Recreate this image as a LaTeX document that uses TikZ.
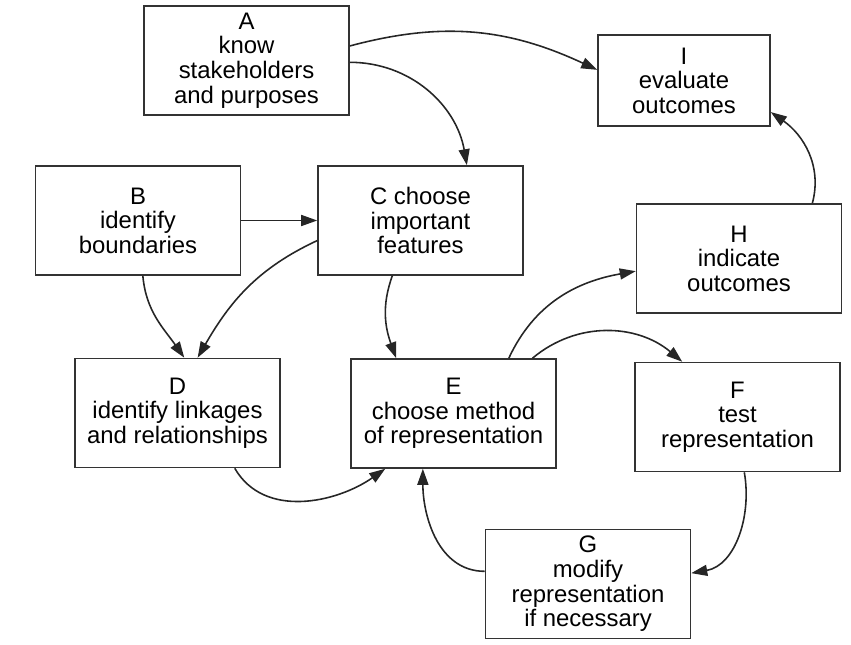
\documentclass[tikz,border=0pt]{standalone}
\usepackage{fontspec}
\setmainfont{Liberation Sans}
\usetikzlibrary{arrows.meta}

\begin{document}
\begin{tikzpicture}[x=0.02cm, y=-0.02cm, line width=0.9pt,
    box/.style={draw=black!80, fill=white, align=center, inner sep=2pt,
      minimum width=4.1cm, minimum height=2.18cm,
      font=\fontsize{13.6}{14}\selectfont},
    flow/.style={draw=black!85, -{Triangle[length=0.32cm,width=0.22cm]}}]
  \useasboundingbox (0,0) rectangle (851,645);

  % steps
  \node[box] (A) at (246.5,60.5) {A\\know\\stakeholders\\and purposes};
  \node[box, minimum width=3.44cm, minimum height=1.82cm] (I) at (684,80.5) {I\\evaluate\\outcomes};
  \node[box] (B) at (138,220.5) {B\\identify\\boundaries};
  \node[box] (C) at (420.5,220.5) {C choose\\important\\features};
  \node[box] (H) at (739,258.5) {H\\indicate\\outcomes};
  \node[box] (D) at (177.5,413) {D\\identify linkages\\and relationships};
  \node[box] (E) at (453.5,413.5) {E\\choose method\\of representation};
  \node[box] (F) at (737.5,417) {F\\test\\representation};
  \node[box] (G) at (588,584) {G\\modify\\representation\\if necessary};

  % connectors
  \draw[flow] (A.8.6) to[out=15, in=155] (I.173);
  \draw[flow] (A.-1) to[out=0, in=100] (C.50);
  \draw[flow] (B) -- (C);
  \draw[flow] (C.191) to[out=205, in=60] (D.70);
  \draw[flow] (B.-85) to[out=-85, in=125] (D.83);
  \draw[flow] (C.-117) to[out=-110, in=110] (E.136);
  \draw[flow] (D.-44) to[out=-60, in=-145] (E.-141);
  \draw[flow] (G.173) to[out=180, in=-90] (E.-119);
  \draw[flow] (E.45) to[out=65, in=190] (H.187);
  \draw[flow] (E.35) to[out=40, in=140] (F.135);
  \draw[flow] (F.-83) to[out=-80, in=10] (G.6);
  \draw[flow] (H.37) to[out=75, in=-35] (I.-20.7);
\end{tikzpicture}
\end{document}
